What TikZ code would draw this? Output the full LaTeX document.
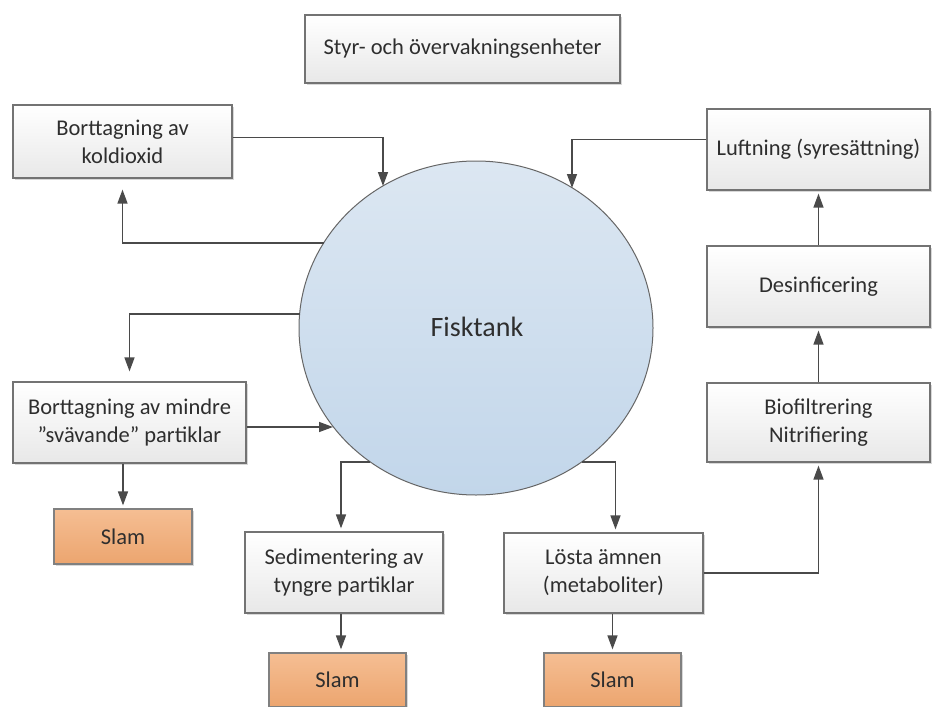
\documentclass[tikz,border=0pt]{standalone}
\usepackage{fontspec}
\setmainfont{Carlito}
\usetikzlibrary{arrows.meta,shadows,calc}
\definecolor{txt}{HTML}{2E2E2E}
\definecolor{ln}{HTML}{4A4A4A}
\definecolor{bord}{HTML}{737373}
\definecolor{tanktop}{HTML}{DCE7F2}
\definecolor{tankbot}{HTML}{C2D6EA}
\definecolor{slamtop}{HTML}{F5BE93}
\definecolor{slambot}{HTML}{ECA56F}
\begin{document}
\begin{tikzpicture}[x=1pt,y=-1pt,
  box/.style={rectangle,draw=bord,line width=1.2pt,top color=white,bottom color=black!9,
    text=txt,align=center,font=\fontsize{22.5}{28}\selectfont,inner sep=0pt,
    drop shadow={shadow xshift=1.5pt,shadow yshift=-1.5pt,opacity=0.25,fill=black!60}},
  slam/.style={box,draw=black!50,top color=slamtop,bottom color=slambot},
  arr/.style={draw=ln,line width=1.4pt,-{Triangle[length=14pt,width=10pt]},shorten >=3pt}
]
\useasboundingbox[fill=white] (0,0) rectangle (932,707);
\node[box,minimum width=315pt,minimum height=68pt] (ctrl) at (462.5,49) {Styr- och övervakningsenheter};
\node[box,minimum width=219pt,minimum height=73pt] (co2) at (122.5,141.5) {Borttagning av\\koldioxid};
\node[box,minimum width=223pt,minimum height=81pt] (luft) at (818.5,149.5) {Luftning (syresättning)};
\node[box,minimum width=223pt,minimum height=81pt] (desinf) at (818.5,286.5) {Desinficering};
\node[box,minimum width=223pt,minimum height=79pt] (bio) at (818.5,422.5) {Biofiltrering\\Nitrifiering};
\node[box,minimum width=233pt,minimum height=81pt] (mindre) at (129.5,422.5) {Borttagning av mindre\\\char"201D svävande\char"201D{} partiklar};
\node[slam,minimum width=138pt,minimum height=55pt] (slam1) at (123,536.5) {Slam};
\node[box,minimum width=198pt,minimum height=81pt] (sed) at (344,572.5) {Sedimentering av\\tyngre partiklar};
\node[slam,minimum width=137pt,minimum height=54pt] (slam2) at (337.5,680) {Slam};
\node[box,minimum width=199pt,minimum height=80pt] (losta) at (603.5,573) {Lösta ämnen\\(metaboliter)};
\node[slam,minimum width=137pt,minimum height=54pt] (slam3) at (612.5,680) {Slam};
\draw[draw=black!60,line width=1pt,top color=tanktop,bottom color=tankbot]
  (476,328) ellipse [x radius=177pt,y radius=167pt];
\node[text=txt,font=\fontsize{28}{33}\selectfont] (tank) at (477,327) {Fisktank};
\coordinate (tA) at (383,186);
\coordinate (tB) at (572,188);
\coordinate (tC) at (324,243);
\coordinate (tD) at (300,314);
\coordinate (tE) at (333,427);
\coordinate (tF) at (370,462);
\coordinate (tG) at (582,462);
\draw[arr,shorten >=0pt] ([yshift=4pt]co2.east) -| (tA);
\draw[arr,shorten >=0pt] ([yshift=10pt]luft.west) -| (tB);
\draw[arr,shorten >=11pt] (tC) -| (co2.south);
\draw[arr,shorten >=10pt] (tD) -| (mindre.north);
\draw[arr,shorten >=0pt] ([yshift=-4.5pt]mindre.east) -- (tE);
\draw[arr] (mindre.south -| slam1.north) -- (slam1.north);
\draw[arr] (tF) -| ([xshift=-3pt]sed.north);
\draw[arr] ([xshift=-3pt]sed.south) -- ([xshift=-3pt]sed.south |- slam2.north);
\draw[arr] (tG) -| ([xshift=12pt]losta.north);
\draw[arr] (losta.south -| slam3.north) -- (slam3.north);
\draw[arr] (losta.east) -| (bio.south);
\draw[arr] (bio.north) -- (desinf.south);
\draw[arr] (desinf.north) -- (luft.south);
\end{tikzpicture}
\end{document}
